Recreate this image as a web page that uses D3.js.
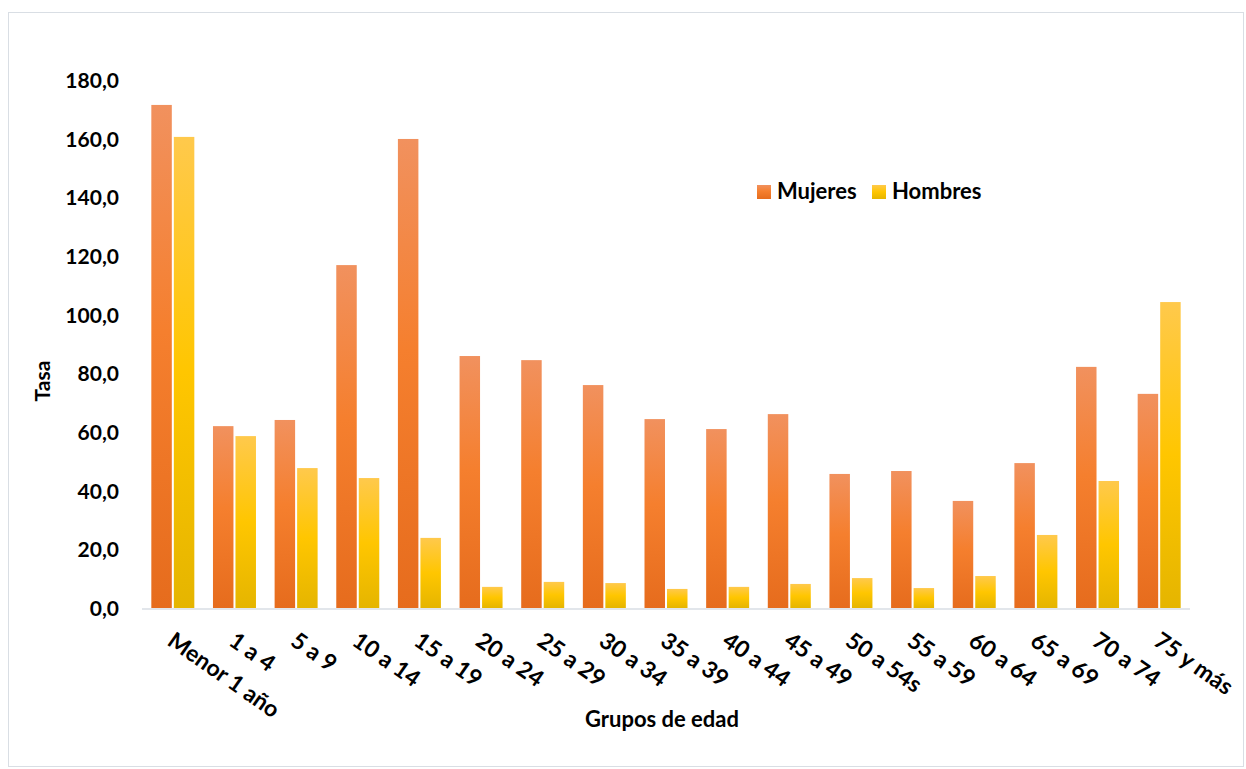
<!DOCTYPE html>
<html>
<head>
<meta charset="utf-8">
<script src="https://cdnjs.cloudflare.com/ajax/libs/d3/7.8.5/d3.min.js"></script>
<style>
  body { margin: 0; background: #fff; }
  text { font-family: Lato, "Open Sans", sans-serif; font-weight: bold; fill: #000; }
</style>
</head>
<body>
<div id="chart"></div>
<script>
var categories = ["Menor 1 año", "1 a 4", "5 a 9", "10 a 14", "15 a 19", "20 a 24", "25 a 29", "30 a 34",
	"35 a 39", "40 a 44", "45 a 49", "50 a 54s", "55 a 59", "60 a 64", "65 a 69", "70 a 74", "75 y más"];
var mujeres = [171.5, 62.0, 64.1, 116.9, 159.9, 85.9, 84.5, 76.0, 64.4, 61.0, 66.1, 45.7, 46.7, 36.5, 49.4, 82.2, 73.0];
var hombres = [160.6, 58.6, 47.7, 44.3, 23.9, 7.2, 8.9, 8.5, 6.5, 7.2, 8.2, 10.2, 6.8, 10.9, 24.9, 43.3, 104.3];
var seriesNames = ["Mujeres", "Hombres"];
var yTicks = [0, 20, 40, 60, 80, 100, 120, 140, 160, 180];

var width = 1246;
var height = 769;
var plot = { left: 142, right: 1190, top: 80, bottom: 609 };

var svg = d3.select("#chart")
	.append("svg")
	.attr("width", width)
	.attr("height", height);

// gradients (one per series, stretched on each bar)
var defs = svg.append("defs");
var grads = [
	{ id: "gM", stops: [["0%", "#F1915E"], ["45%", "#F57F2E"], ["100%", "#E66C1D"]] },
	{ id: "gH", stops: [["0%", "#FFC94C"], ["50%", "#FFC600"], ["100%", "#E5B500"]] }
];
grads.forEach(function(g) {
	var lg = defs.append("linearGradient").attr("id", g.id)
		.attr("x1", 0).attr("y1", 0).attr("x2", 0).attr("y2", 1);
	g.stops.forEach(function(s) {
		lg.append("stop").attr("offset", s[0]).attr("stop-color", s[1]);
	});
});

// chart border
svg.append("rect")
	.attr("x", 8.5).attr("y", 12.5)
	.attr("width", 1235).attr("height", 754)
	.attr("fill", "none")
	.attr("stroke", "#D9DEE4");

var x = d3.scaleBand()
	.domain(categories)
	.range([plot.left, plot.right])
	.paddingInner(0)
	.paddingOuter(0);

var inner = d3.scaleBand()
	.domain(seriesNames)
	.range([0, 43])
	.paddingInner(0.09);

var y = d3.scaleLinear()
	.domain([0, 180])
	.range([608, 80]);

// y axis labels
var yAxis = d3.axisLeft(y)
	.tickValues(yTicks)
	.tickSize(0)
	.tickPadding(0)
	.tickFormat(function(d) { return d3.format(".1f")(d).replace(".", ","); });

var gy = svg.append("g")
	.attr("transform", "translate(119,0)")
	.call(yAxis);
gy.select(".domain").remove();
gy.selectAll("text")
	.attr("font-size", 21)
	.attr("dy", "0.36em");

// bars
var data = categories.map(function(c, i) {
	return { cat: c, vals: [mujeres[i], hombres[i]] };
});

var groups = svg.selectAll(".grp")
	.data(data)
	.enter().append("g")
	.attr("class", "grp")
	.attr("transform", function(d) {
		return "translate(" + (x(d.cat) + (x.bandwidth() - 43) / 2) + ",0)";
	});

groups.selectAll("rect")
	.data(function(d) {
		return d.vals.map(function(v, k) { return { name: seriesNames[k], v: v }; });
	})
	.enter().append("rect")
	.attr("x", function(d) { return inner(d.name); })
	.attr("y", function(d) { return y(d.v); })
	.attr("width", inner.bandwidth())
	.attr("height", function(d) { return y(0) - y(d.v); })
	.attr("fill", function(d) { return d.name == "Mujeres" ? "url(#gM)" : "url(#gH)"; });

// x axis line
svg.append("line")
	.attr("x1", plot.left).attr("x2", plot.right)
	.attr("y1", 609).attr("y2", 609)
	.attr("stroke", "#D9DEE4")
	.attr("stroke-width", 1.5);

// x labels, rotated
svg.selectAll(".xlab")
	.data(categories)
	.enter().append("text")
	.attr("class", "xlab")
	.attr("font-size", 23)
	.attr("text-anchor", "start")
	.attr("transform", function(d) {
		return "translate(" + (x(d) + x.bandwidth() / 2 + 3) + ",630) rotate(35)";
	})
	.attr("dy", "0.75em")
	.text(function(d) { return d; });

// axis titles
svg.append("text")
	.attr("font-size", 21)
	.attr("text-anchor", "middle")
	.attr("transform", "translate(50,381) rotate(-90)")
	.text("Tasa");

svg.append("text")
	.attr("font-size", 22)
	.attr("text-anchor", "middle")
	.attr("x", 662)
	.attr("y", 727)
	.text("Grupos de edad");

// legend
var legend = svg.append("g").attr("transform", "translate(757,185)");
var legX = [0, 115];
seriesNames.forEach(function(n, k) {
	var item = legend.append("g").attr("transform", "translate(" + legX[k] + ",0)");
	item.append("rect")
		.attr("width", 14).attr("height", 14)
		.attr("fill", k == 0 ? "url(#gM)" : "url(#gH)");
	item.append("text")
		.attr("x", 20)
		.attr("y", 14)
		.attr("font-size", 22)
		.text(n);
});
</script>
</body>
</html>
